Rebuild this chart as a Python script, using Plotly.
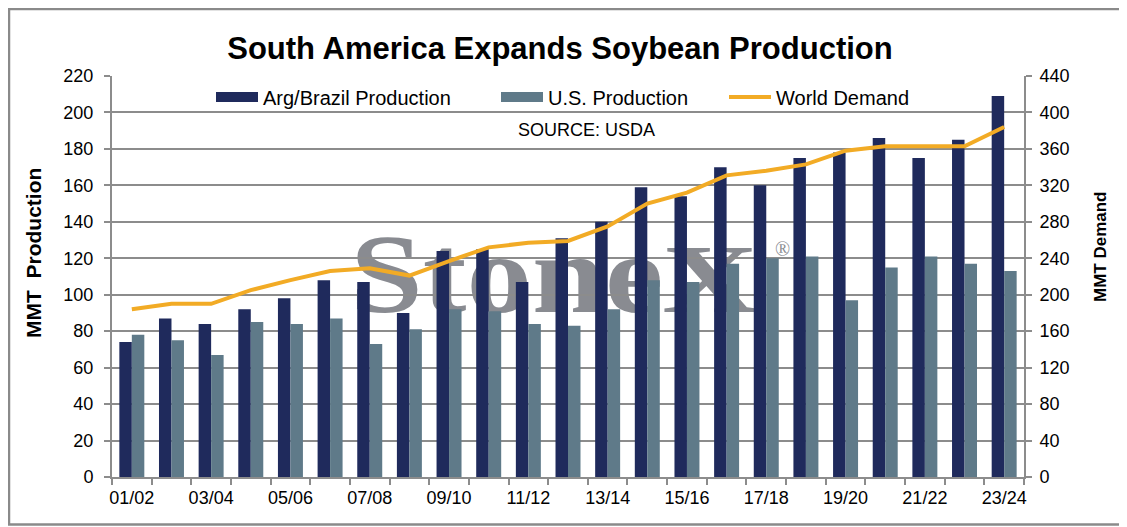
import base64
from plotly import graph_objects as go

seasons = ['01/02', '02/03', '03/04', '04/05', '05/06', '06/07', '07/08', '08/09',
           '09/10', '10/11', '11/12', '12/13', '13/14', '14/15', '15/16', '16/17',
           '17/18', '18/19', '19/20', '20/21', '21/22', '22/23', '23/24']
arg_brazil = [74, 87, 84, 92, 98, 108, 107, 90, 124, 125, 107, 131,
              140, 159, 154, 170, 160, 175, 178, 186, 175, 185, 209]
us_prod = [78, 75, 67, 85, 84, 87, 73, 81, 92, 91, 84, 83,
           92, 108, 107, 117, 120, 121, 97, 115, 121, 117, 113]
world_demand = [184, 190, 190, 205, 216, 226, 229, 221, 237, 252, 257, 259,
                275, 300, 312, 331, 336, 343, 358, 363, 363, 363, 384]

NAVY = '#1f2a5c'
SLATE = '#5f7a89'
ORANGE = '#f2ab25'
GRID = '#8c8c8c'
FONT = 'Liberation Sans, Arial, sans-serif'

idx = list(range(len(seasons)))

# page has an 8px body margin, so the figure is shrunk and all window
# pixel positions below are shifted by OFF
OFF = 8
W, H = 1127 - OFF, 527 - OFF
L, R, T, B = 112, 1024, 76, 477          # plot area in window pixels
PW, PH = R - L, B - T


def px(x):
    return (x - L) / PW


def py(y):
    return (B - y) / PH


fig = go.Figure()

# bars
fig.add_trace(go.Bar(x=idx, y=arg_brazil, name='Arg/Brazil Production',
                     marker=dict(color=NAVY, line_width=0), showlegend=False))
fig.add_trace(go.Bar(x=idx, y=us_prod, name='U.S. Production',
                     marker=dict(color=SLATE, line_width=0), showlegend=False))

# demand line on right axis
fig.add_trace(go.Scatter(x=idx, y=world_demand, name='World Demand', mode='lines',
                         line=dict(color=ORANGE, width=4), xaxis='x2', yaxis='y2',
                         showlegend=False))

# legend entries (wide swatches like excel)
fig.add_trace(go.Scatter(x=[None], y=[None], mode='lines', name='Arg/Brazil Production',
                         line=dict(color=NAVY, width=10), legend='legend'))
fig.add_trace(go.Scatter(x=[None], y=[None], mode='lines', name='U.S. Production',
                         line=dict(color=SLATE, width=10), legend='legend2'))
fig.add_trace(go.Scatter(x=[None], y=[None], mode='lines', name='World Demand',
                         line=dict(color=ORANGE, width=4), legend='legend3'))

leg = dict(orientation='h', yanchor='middle', xanchor='left', bgcolor='rgba(0,0,0,0)',
           font=dict(family=FONT, size=20, color='black'), itemwidth=42)
fig.update_layout(
    legend=dict(leg, x=px(211), y=py(97)),
    legend2=dict(leg, x=px(496), y=py(97)),
    legend3=dict(leg, x=px(724), y=py(97)),
)

# StoneX watermark drawn behind the bars
svg = ('<svg xmlns="http://www.w3.org/2000/svg" width="460" height="95" viewBox="0 0 460 95">'
       '<g fill="#898b91" font-family="Liberation Serif, Times New Roman, serif" font-weight="bold">'
       '<text transform="translate(2,87) scale(1.17,1)" font-size="112">Stone</text>'
       '<text transform="translate(314,87) scale(1.36,1)" font-size="98">X</text>'
       '<text x="427" y="31" font-size="20" font-weight="normal">&#174;</text>'
       '</g></svg>')
src = 'data:image/svg+xml;base64,' + base64.b64encode(svg.encode()).decode()
fig.add_layout_image(dict(source=src, xref='paper', yref='paper',
                          x=px(348), y=py(225), sizex=460 / PW, sizey=95 / PH,
                          xanchor='left', yanchor='top', sizing='stretch', layer='below'))

fig.update_layout(
    width=W, height=H,
    margin=dict(l=L - OFF, r=W - (R - OFF), t=T - OFF, b=H - (B - OFF), autoexpand=False),
    paper_bgcolor='white', plot_bgcolor='rgba(0,0,0,0)',
    barmode='group', bargap=0.37, bargroupgap=0,
    font=dict(family=FONT, size=18, color='black'),
    title=dict(text='<b>South America Expands Soybean Production</b>',
               x=(560 - OFF) / W, xanchor='center', y=1 - (48 - OFF) / H, yanchor='middle',
               font=dict(family=FONT, size=31, color='black')),
    xaxis=dict(range=[-0.5, len(seasons) - 0.5],
               tickvals=[i - 0.5 for i in range(len(seasons) + 1)],
               showticklabels=False, ticks='outside', ticklen=6, tickwidth=2,
               tickcolor=GRID, showline=True, linecolor=GRID, linewidth=2,
               showgrid=False, zeroline=False, fixedrange=True),
    xaxis2=dict(overlaying='x', anchor='y2', side='bottom',
                range=[-0.5, len(seasons) - 0.5],
                tickvals=idx[::2], ticktext=seasons[::2],
                ticks='outside', ticklen=4, tickcolor='rgba(0,0,0,0)',
                tickfont=dict(size=18), showline=False, showgrid=False, zeroline=False),
    yaxis=dict(range=[0, 220], dtick=20, tick0=0, showgrid=True, gridcolor=GRID,
               gridwidth=2, ticks='outside', ticklen=6, tickwidth=2, tickcolor=GRID,
               showline=True, linecolor=GRID, linewidth=2, zeroline=False,
               tickfont=dict(size=18), ticklabelstandoff=7),
    yaxis2=dict(range=[0, 440], dtick=40, tick0=0, overlaying='y', side='right',
                anchor='x2', showgrid=False, ticks='outside', ticklen=6, tickwidth=2,
                tickcolor=GRID, showline=True, linecolor=GRID, linewidth=2,
                zeroline=False, tickfont=dict(size=18), ticklabelstandoff=4),
)

# axis titles (sit above centre in the original, so placed as annotations)
fig.add_annotation(text='<b>MMT\u00a0 Production</b>', textangle=-90,
                   xref='paper', yref='paper', x=px(33), y=py(253),
                   xanchor='center', yanchor='middle', showarrow=False,
                   font=dict(family=FONT, size=21, color='black'))
fig.add_annotation(text='<b>MMT Demand</b>', textangle=-90,
                   xref='paper', yref='paper', x=px(1100), y=py(247),
                   xanchor='center', yanchor='middle', showarrow=False,
                   font=dict(family=FONT, size=17, color='black'))

fig.add_annotation(text='SOURCE: USDA', xref='paper', yref='paper',
                   x=px(586), y=py(130), xanchor='center', yanchor='middle',
                   showarrow=False, font=dict(family=FONT, size=18, color='black'))

# outer chart border (left/top edges sit at the figure edge)
fig.add_shape(type='rect', xref='paper', yref='paper',
              x0=px(OFF + 1), x1=px(1125), y0=py(524.5), y1=py(OFF + 1),
              line=dict(color='#8a8a8a', width=2.5), fillcolor='rgba(0,0,0,0)')

fig.write_html('out.html')
